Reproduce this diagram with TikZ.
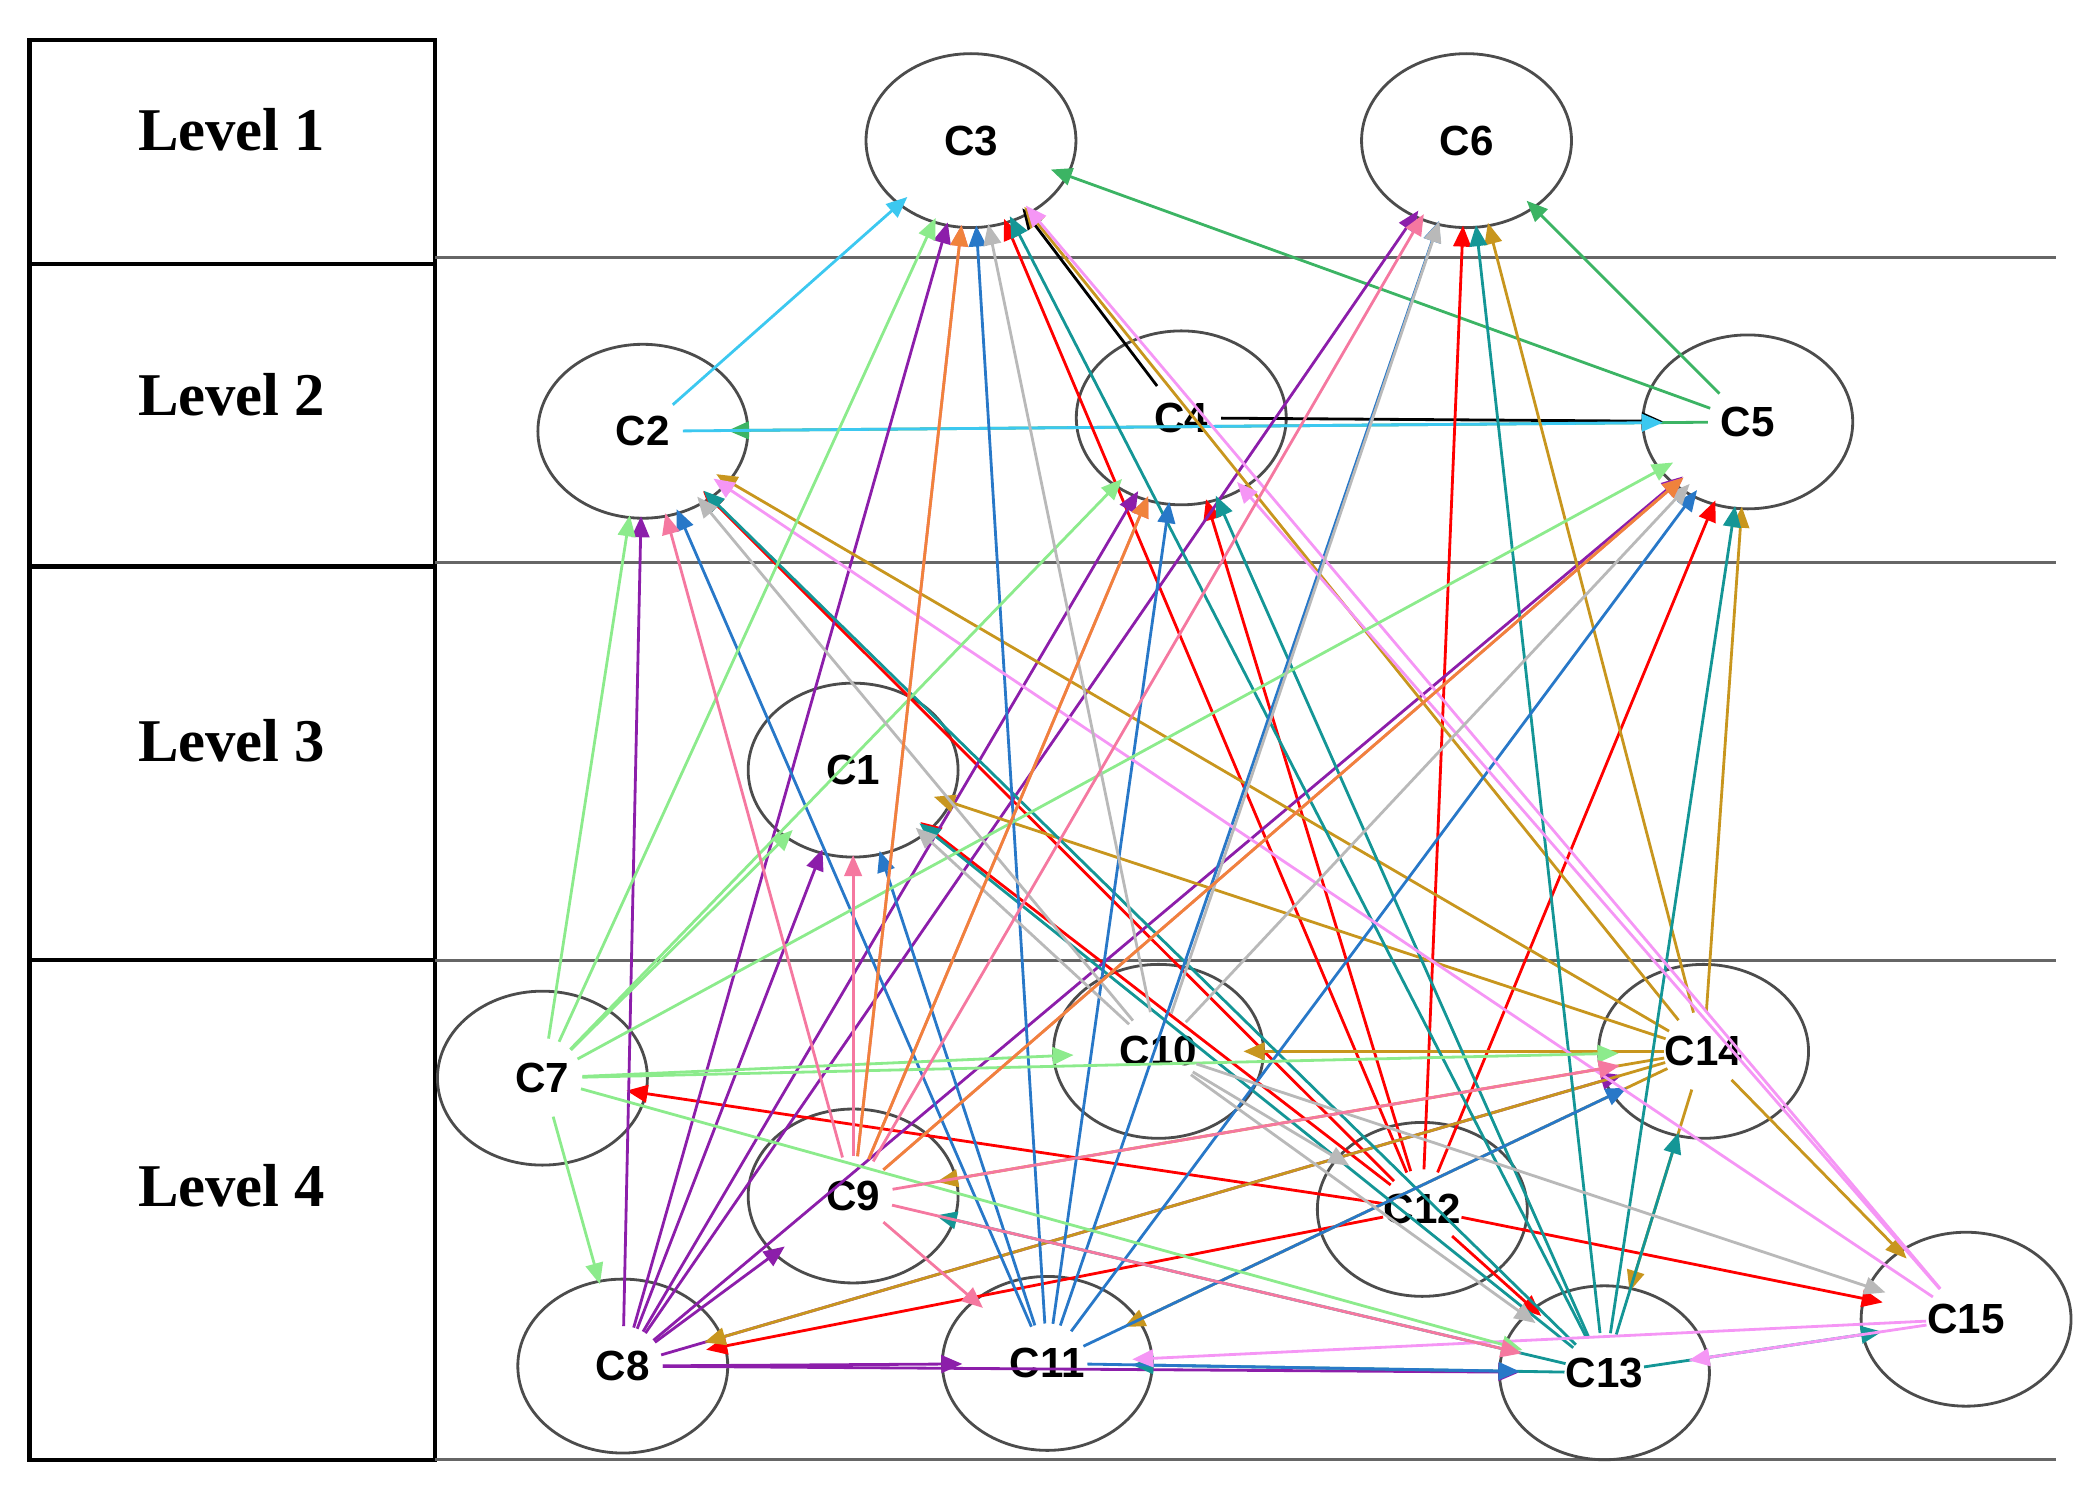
\documentclass[tikz,border=0pt]{standalone}
\usepackage{fontspec}
\setmainfont{Liberation Serif}
\setsansfont{Liberation Sans}
\usepackage{tikz}
\usetikzlibrary{shapes.geometric,arrows.meta}
\definecolor{lgreen}{RGB}{140,235,140}
\definecolor{mgreen}{RGB}{60,180,100}
\definecolor{lcyan}{RGB}{60,200,240}
\definecolor{lpink}{RGB}{245,120,160}
\definecolor{lviolet}{RGB}{245,150,245}
\definecolor{mpurple}{RGB}{140,30,170}
\definecolor{mteal}{RGB}{20,150,150}
\definecolor{mblue}{RGB}{40,120,200}
\definecolor{mgold}{RGB}{200,150,30}
\definecolor{morange}{RGB}{240,130,60}
\definecolor{lgray}{RGB}{185,185,185}
\begin{document}
\begin{tikzpicture}[x=0.01339cm,y=-0.01339cm,
  cn/.style={ellipse,draw=black!70,thick,minimum width=2.1cm,minimum height=1.74cm,
    font=\sffamily\bfseries\large,inner sep=0pt},
  lvl/.style={font=\bfseries\LARGE},
  ed/.style={thick,-{Triangle[length=6pt,width=5pt]},shorten >=0.85cm,shorten <=0.4cm}]
\useasboundingbox (0,0) rectangle (1568,1109);
% level boxes and separators
\draw[very thick] (22,30) rectangle (325,197);
\draw[very thick] (22,197) rectangle (325,423);
\draw[very thick] (22,423) rectangle (325,717);
\draw[very thick] (22,717) rectangle (325,1090);
\node[lvl] at (173,97) {Level 1};
\node[lvl] at (173,295) {Level 2};
\node[lvl] at (173,553) {Level 3};
\node[lvl] at (173,885) {Level 4};
\draw[gray!80!black,thick] (325,192) -- (1535,192);
\draw[gray!80!black,thick] (325,420) -- (1535,420);
\draw[gray!80!black,thick] (325,717) -- (1535,717);
\draw[gray!80!black,thick] (325,1090) -- (1535,1090);
% concepts
\node[cn] (c3) at (725,105) {C3};
\node[cn] (c6) at (1095,105) {C6};
\node[cn] (c2) at (480,322) {C2};
\node[cn] (c4) at (882,312) {C4};
\node[cn] (c5) at (1305,315) {C5};
\node[cn] (c1) at (637,575) {C1};
\node[cn] (c7) at (405,805) {C7};
\node[cn] (c10) at (865,785) {C10};
\node[cn] (c14) at (1272,785) {C14};
\node[cn] (c9) at (637,893) {C9};
\node[cn] (c12) at (1062,903) {C12};
\node[cn] (c8) at (465,1020) {C8};
\node[cn] (c11) at (782,1018) {C11};
\node[cn] (c13) at (1198,1025) {C13};
\node[cn] (c15) at (1468,985) {C15};
% links
\foreach \a/\b/\col in {
  c2/c3/lcyan, c5/c2/mgreen, c4/c5/black, c2/c5/lcyan, c4/c3/black,
  c5/c3/mgreen, c5/c6/mgreen,
  c12/c3/red, c12/c6/red, c12/c2/red, c12/c5/red, c12/c1/red, c12/c4/red,
  c12/c7/red, c12/c13/red, c12/c15/red, c12/c8/red,
  c8/c3/mpurple, c8/c4/mpurple, c8/c6/mpurple, c8/c5/mpurple, c8/c1/mpurple,
  c8/c2/mpurple, c8/c11/mpurple, c8/c13/mpurple, c8/c14/mpurple, c8/c9/mpurple,
  c14/c3/mgold, c14/c2/mgold, c14/c6/mgold, c14/c10/mgold, c14/c1/mgold,
  c14/c9/mgold, c14/c15/mgold, c14/c8/mgold, c14/c11/mgold, c14/c13/mgold, c14/c5/mgold,
  c13/c3/mteal, c13/c6/mteal, c13/c5/mteal, c13/c14/mteal, c13/c15/mteal,
  c13/c11/mteal, c13/c4/mteal, c13/c2/mteal, c13/c9/mteal, c13/c1/mteal,
  c11/c3/mblue, c11/c6/mblue, c11/c4/mblue, c11/c1/mblue, c11/c2/mblue,
  c11/c5/mblue, c11/c14/mblue, c11/c13/mblue,
  c15/c3/lviolet, c15/c2/lviolet, c15/c4/lviolet, c15/c13/lviolet, c15/c11/lviolet,
  c7/c3/lgreen, c7/c2/lgreen, c7/c1/lgreen, c7/c4/lgreen, c7/c5/lgreen,
  c7/c8/lgreen, c7/c10/lgreen, c7/c14/lgreen, c7/c13/lgreen,
  c10/c3/lgray, c10/c6/lgray, c10/c5/lgray, c10/c2/lgray, c10/c12/lgray,
  c10/c13/lgray, c10/c15/lgray, c10/c1/lgray,
  c9/c3/lpink, c9/c6/lpink, c9/c2/lpink, c9/c4/lpink, c9/c1/lpink,
  c9/c5/lpink, c9/c13/lpink, c9/c11/lpink, c9/c14/lpink,
  c9/c3/morange, c9/c4/morange, c9/c5/morange}
  \draw[ed,\col] (\a.center) -- (\b.center);
\end{tikzpicture}
\end{document}
